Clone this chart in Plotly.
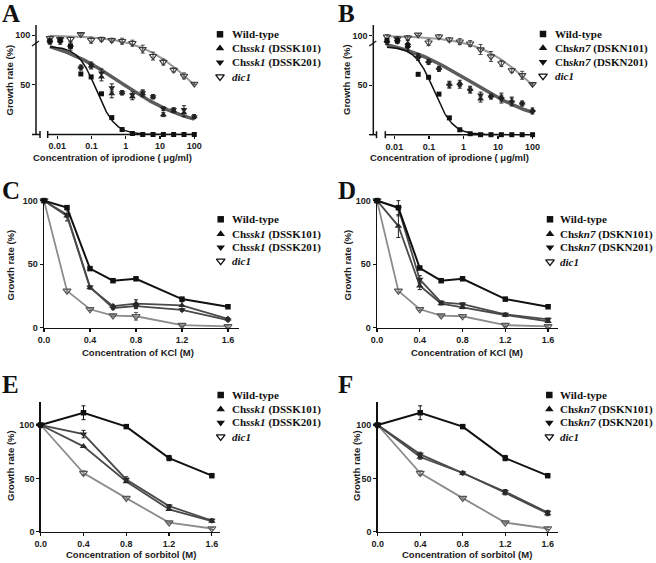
import numpy as np
import plotly.graph_objects as go

W, H = 656, 563

# ---------------- data ----------------
ipro_conc = [0.0061, 0.0122, 0.0244, 0.0488, 0.0977, 0.1953, 0.3906, 0.7813,
             1.5625, 3.125, 6.25, 12.5, 25, 50, 100]
A_wt = [94, 95, 89, 61, 58, 41, 17, 5, 1, 0, 0, 0, 0, 0, 0]
A_mut1 = [95, 95, 90, 68, 69, 58, 41, 42, 38, 41, 38, 20, 24, 22, 18]
A_mut2 = [93, 93, 88, 67, 70, 62, 47, 42, 40, 42, 38, 26, 25, 25, 18]
A_dic1 = [97, 96, 96, 101, 95, 96, 95, 94, 92, 86, 79, 73, 65, 59, 51]
A_mut_err = [2, 2, 3, 2, 3, 4, 4, 2, 3, 3, 2, 2, 2, 4, 2]
A_dic1_err = [2, 2, 2, 1, 3, 2, 2, 3, 3, 4, 4, 3, 2, 3, 1]

B_wt = [95, 95, 90, 61, 58, 41, 17, 5, 1, 0, 0, 0, 0, 0, 0]
B_mut1 = [95, 96, 92, 80, 74, 67, 51, 52, 46, 36, 39, 38, 34, 32, 25]
B_mut2 = [93, 94, 88, 77, 73, 66, 50, 50, 45, 40, 38, 36, 33, 31, 23]
B_dic1 = [99, 97, 98, 101, 93, 99, 96, 94, 92, 86, 79, 72, 65, 60, 51]
B_mut_err = [2, 2, 3, 2, 2, 2, 3, 3, 3, 3, 2, 4, 4, 2, 2]
B_dic1_err = [2, 2, 2, 1, 3, 2, 2, 3, 3, 5, 5, 3, 2, 4, 1]

# four-parameter logistic fits: top, bottom, EC50, hill
A_fit_wt = [89, 0, 0.14, 1.6]
A_fit_mut = [100, 5, 0.7, 0.42]
A_fit_dic1 = [100, 0, 100, 0.55]
B_fit_wt = [89, 0, 0.14, 1.6]
B_fit_mut = [100, 8, 1.5, 0.4]
B_fit_dic1 = [100, 0, 100, 0.55]

kcl_conc = [0, 0.2, 0.4, 0.6, 0.8, 1.2, 1.6]
C_wt = [100, 94.5, 46.5, 37, 38.5, 22.5, 16.5]
C_mut1 = [100, 88, 31.5, 17, 19, 17.5, 7]
C_mut2 = [100, 89, 32, 15.5, 17, 14, 6]
C_dic1 = [100, 29, 14.5, 9.5, 9, 2, 1]
C_mut1_err = [0, 1, 1, 1, 3, 3, 1]
C_mut2_err = [0, 5, 1, 1, 2, 1, 1]
C_dic1_err = [0, 1, 1, 1, 3, 1, 1]

D_wt = [100, 94.5, 47, 37, 38.5, 22.5, 16.5]
D_mut1 = [100, 80, 33, 19, 16, 10, 5]
D_mut2 = [100, 94, 38, 20, 18.5, 10.5, 6.5]
D_dic1 = [100, 29, 14.5, 9.5, 9, 2, 1]
D_mut1_err = [0, 9, 3, 1, 1, 1, 1]
D_mut2_err = [0, 6, 3, 1, 1, 1, 1]
D_dic1_err = [0, 1, 1, 1, 1, 1, 1]

sorb_conc = [0, 0.4, 0.8, 1.2, 1.6]
E_wt = [100, 111.5, 98.5, 69, 52.5]
E_mut1 = [100, 80, 47, 21, 10]
E_mut2 = [100, 91.5, 49, 24, 10.5]
E_dic1 = [100, 55, 31.5, 8.5, 3]
E_wt_err = [0, 6.5, 1, 2.5, 1]
E_mut2_err = [0, 3.5, 2.5, 1.5, 1.5]
E_dic1_err = [0, 2, 1, 1, 1]

F_wt = [100, 111.5, 98.5, 69, 52.5]
F_mut1 = [100, 70, 55, 36.5, 17]
F_mut2 = [100, 72.5, 55, 37.5, 18]
F_dic1 = [100, 55, 31.5, 8.5, 3]
F_wt_err = [0, 6.5, 1, 2.5, 1]
F_mut_err = [0, 2, 1.5, 2, 2]
F_dic1_err = [0, 2, 1, 1, 1]

legend_ssk = ["Wild-type", "Ch<i>ssk1</i> (DSSK101)", "Ch<i>ssk1</i> (DSSK201)", "<i>dic1</i>"]
legend_skn = ["Wild-type", "Ch<i>skn7</i> (DSKN101)", "Ch<i>skn7</i> (DSKN201)", "<i>dic1</i>"]
y_ticks = [0, 50, 100]
ipro_ticks = [0.01, 0.1, 1, 10, 100]
salt_ticks = [0, 0.4, 0.8, 1.2, 1.6]

# ---------------- style ----------------
C_WT = "#111111"
C_MUT = "#4a4a4a"
C_DIC = "#8c8c8c"
SANS = "Liberation Sans"
SERIF = "Liberation Serif"

fig = go.Figure()


def xd(a, b):
    return [a / W, b / W]


def yd(top, bottom):
    return [1 - bottom / H, 1 - top / H]


# panel geometry (pixels)
panels = {
    1: dict(x=(36, 196), y=(25, 134.5), xr=[-2.62, 2.05], yr=[0, 110.3], log=True),
    2: dict(x=(373.3, 534.3), y=(25, 134.7), xr=[-2.61, 2.05], yr=[0, 110.8], log=True),
    3: dict(x=(44, 239), y=(199, 327.7), xr=[0, 1.696], yr=[0, 101.3], log=False),
    4: dict(x=(377, 557.7), y=(199, 327.7), xr=[0, 1.69], yr=[0, 101.3], log=False),
    5: dict(x=(40.7, 220), y=(402.3, 531.7), xr=[0, 1.676], yr=[0, 121.3], log=False),
    6: dict(x=(377.7, 557.7), y=(402.3, 531.7), xr=[0, 1.694], yr=[0, 121.3], log=False),
}

tickfont = dict(family=SANS, size=9, color="#1a1a1a", weight="bold")
layout_axes = {}
for i, p in panels.items():
    xn = "xaxis" if i == 1 else f"xaxis{i}"
    yn = "yaxis" if i == 1 else f"yaxis{i}"
    ax = dict(domain=xd(*p["x"]), range=p["xr"], showgrid=False, zeroline=False,
              ticks="outside", ticklen=3, tickwidth=1.2, tickcolor="#111", automargin=False,
              tickfont=tickfont, anchor=f"y{'' if i == 1 else i}")
    ay = dict(domain=yd(*p["y"]), range=p["yr"], showgrid=False, zeroline=False,
              ticks="outside", ticklen=3, tickwidth=1.2, tickcolor="#111", automargin=False,
              tickfont=tickfont, tickvals=y_ticks, anchor=f"x{'' if i == 1 else i}")
    if p["log"]:
        ax.update(type="log", tickvals=ipro_ticks, ticktext=["0.01", "0.1", "1", "10", "100"],
                  showline=False)
        ay.update(ticktext=["", "50", "100"], showline=False)
    else:
        ax.update(tickvals=salt_ticks, ticktext=["0.0", "0.4", "0.8", "1.2", "1.6"],
                  showline=True, linecolor="#111", linewidth=1.5)
        ay.update(ticktext=["0", "50", "100"], showline=True, linecolor="#111", linewidth=1.5)
    layout_axes[xn] = ax
    layout_axes[yn] = ay

# overlay pixel axis
layout_axes["xaxis7"] = dict(domain=[0, 1], range=[0, W], visible=False, anchor="y7",
                             automargin=False, fixedrange=True)
layout_axes["yaxis7"] = dict(domain=[0, 1], range=[H, 0], visible=False, anchor="x7",
                             automargin=False, fixedrange=True)


def axref(i):
    return ("x" if i == 1 else f"x{i}"), ("y" if i == 1 else f"y{i}")


def logistic(params, x):
    top, bottom, ec50, hill = params
    return bottom + (top - bottom) / (1 + (x / ec50) ** hill)


def err(arr, color):
    return dict(type="data", array=arr, thickness=1, width=2, color=color, visible=True)


# ---- dose-response panels A, B ----
xgrid = np.logspace(np.log10(ipro_conc[0]), np.log10(ipro_conc[-1]), 300)
for i, (wt, m1, m2, dic, merr, derr, fwt, fmut, fdic) in {
    1: (A_wt, A_mut1, A_mut2, A_dic1, A_mut_err, A_dic1_err, A_fit_wt, A_fit_mut, A_fit_dic1),
    2: (B_wt, B_mut1, B_mut2, B_dic1, B_mut_err, B_dic1_err, B_fit_wt, B_fit_mut, B_fit_dic1),
}.items():
    xr_, yr_ = axref(i)
    fig.add_trace(go.Scatter(x=xgrid, y=logistic(fdic, xgrid), mode="lines",
                             line=dict(color="#9a9a9a", width=2), xaxis=xr_, yaxis=yr_))
    fig.add_trace(go.Scatter(x=xgrid, y=logistic(fmut, xgrid), mode="lines",
                             line=dict(color="#5c5c5c", width=3.5), xaxis=xr_, yaxis=yr_))
    fig.add_trace(go.Scatter(x=xgrid, y=logistic(fwt, xgrid), mode="lines",
                             line=dict(color=C_WT, width=1.5), xaxis=xr_, yaxis=yr_))
    fig.add_trace(go.Scatter(x=ipro_conc, y=dic, mode="markers", error_y=err(derr, "#444"),
                             marker=dict(symbol="triangle-down-open", size=6.5, color="#3a3a3a",
                                         line=dict(width=1.1)), xaxis=xr_, yaxis=yr_, cliponaxis=False))
    fig.add_trace(go.Scatter(x=ipro_conc, y=m1, mode="markers", error_y=err(merr, "#222"),
                             marker=dict(symbol="triangle-up", size=6, color="#222"),
                             xaxis=xr_, yaxis=yr_, cliponaxis=False))
    fig.add_trace(go.Scatter(x=ipro_conc, y=m2, mode="markers", error_y=err(merr, "#222"),
                             marker=dict(symbol="triangle-down", size=6, color="#222"),
                             xaxis=xr_, yaxis=yr_, cliponaxis=False))
    fig.add_trace(go.Scatter(x=ipro_conc, y=wt, mode="markers",
                             marker=dict(symbol="square", size=5, color=C_WT),
                             xaxis=xr_, yaxis=yr_, cliponaxis=False))

# ---- line panels C-F ----
line_panels = {
    3: (kcl_conc, C_wt, C_mut1, C_mut2, C_dic1, None, C_mut1_err, C_mut2_err, C_dic1_err),
    4: (kcl_conc, D_wt, D_mut1, D_mut2, D_dic1, None, D_mut1_err, D_mut2_err, D_dic1_err),
    5: (sorb_conc, E_wt, E_mut1, E_mut2, E_dic1, E_wt_err, None, E_mut2_err, E_dic1_err),
    6: (sorb_conc, F_wt, F_mut1, F_mut2, F_dic1, F_wt_err, F_mut_err, F_mut_err, F_dic1_err),
}
for i, (xc, wt, m1, m2, dic, wte, m1e, m2e, de) in line_panels.items():
    xr_, yr_ = axref(i)
    fig.add_trace(go.Scatter(x=xc, y=dic, mode="lines+markers",
                             error_y=err(de, "#555") if de else None,
                             line=dict(color=C_DIC, width=1.8),
                             marker=dict(symbol="triangle-down-open", size=7, color="#555",
                                         line=dict(width=1.2)),
                             xaxis=xr_, yaxis=yr_, cliponaxis=False))
    fig.add_trace(go.Scatter(x=xc, y=m1, mode="lines+markers",
                             error_y=err(m1e, "#222") if m1e else None,
                             line=dict(color=C_MUT, width=1.8),
                             marker=dict(symbol="triangle-up", size=6.5, color="#2a2a2a"),
                             xaxis=xr_, yaxis=yr_, cliponaxis=False))
    fig.add_trace(go.Scatter(x=xc, y=m2, mode="lines+markers",
                             error_y=err(m2e, "#222") if m2e else None,
                             line=dict(color=C_MUT, width=1.8),
                             marker=dict(symbol="triangle-down", size=6.5, color="#2a2a2a"),
                             xaxis=xr_, yaxis=yr_, cliponaxis=False))
    fig.add_trace(go.Scatter(x=xc, y=wt, mode="lines+markers",
                             error_y=err(wte, "#111") if wte else None,
                             line=dict(color=C_WT, width=2),
                             marker=dict(symbol="square", size=5.5, color=C_WT),
                             xaxis=xr_, yaxis=yr_, cliponaxis=False))

# ---- broken axes for A and B (pixel coordinates) ----
shapes = []


def seg(x0, y0, x1, y1, w=1.5):
    shapes.append(dict(type="line", xref="x7", yref="y7", x0=x0, y0=y0, x1=x1, y1=y1,
                       line=dict(color="#111", width=w)))


for (yx, top, base, m1, m2, right) in [(36, 25, 134.5, 40, 47.7, 196),
                                       (373.3, 25, 134.7, 376.5, 385.3, 534.3)]:
    seg(yx, top, yx, base)
    seg(yx - 4, base, m1, base)
    seg(m1, base - 3.5, m1, base + 3.5)
    seg(m2, base - 3.5, m2, base + 3.5)
    seg(m2, base, right, base)
    seg(yx - 4, 46, yx + 3, 41, 1.2)

# ---- legends ----
legend_pos = [
    (legend_ssk, 220, 231, [34.3, 48.3, 62.3, 76.7]),
    (legend_skn, 543, 554, [34, 48, 62, 76]),
    (legend_ssk, 220.7, 231, [219.3, 234, 247.3, 261]),
    (legend_skn, 550, 559, [219.3, 234, 247.3, 261.7]),
    (legend_ssk, 220.7, 231.3, [395, 409.3, 422.7, 436.7]),
    (legend_skn, 549.3, 558.5, [395, 409.3, 422.7, 436.7]),
]
symbols = ["square", "triangle-up", "triangle-down", "triangle-down-open"]
sizes = [6.5, 7.5, 7.5, 7.5]
annotations = []
for labels, sx, tx, rows in legend_pos:
    for k in range(4):
        fig.add_trace(go.Scatter(x=[sx], y=[rows[k]], mode="markers", xaxis="x7", yaxis="y7",
                                 marker=dict(symbol=symbols[k], size=sizes[k], color="#111",
                                             line=dict(width=1.3 if k == 3 else 0, color="#111")),
                                 cliponaxis=False))
        annotations.append(dict(x=tx, y=rows[k], xref="x7", yref="y7", text=f"<b>{labels[k]}</b>",
                                showarrow=False, xanchor="left", yanchor="middle", borderpad=0,
                                font=dict(family=SERIF, size=11, color="#111")))

# panel letters
for letter, lx, ly in [("A", 1, 13), ("B", 337, 13), ("C", 1, 190), ("D", 337, 190),
                       ("E", 1, 384), ("F", 337, 384)]:
    annotations.append(dict(x=lx, y=ly, xref="x7", yref="y7", text=f"<b>{letter}</b>",
                            showarrow=False, xanchor="left", yanchor="middle", borderpad=0,
                            font=dict(family=SERIF, size=25, color="#111")))

# axis titles
ytitle = "Growth rate (%)"
for tx_, ty_ in [(8.5, 80), (346, 80), (9.5, 265), (346.5, 265), (10, 466), (356, 466)]:
    annotations.append(dict(x=tx_, y=ty_, xref="x7", yref="y7", text=ytitle, textangle=-90,
                            showarrow=False, xanchor="center", yanchor="middle",
                            font=dict(family=SANS, size=9.5, color="#1a1a1a", weight="bold")))
xtitles = [("Concentration of iprodione ( \u03bcg/ml)", 112, 157),
           ("Concentration of iprodione ( \u03bcg/ml)", 449, 157),
           ("Concentration of KCl (M)", 138, 352),
           ("Concentration of KCl (M)", 467, 352),
           ("Concentration of sorbitol (M)", 131, 554),
           ("Concentration of sorbitol (M)", 467, 554)]
for t, tx_, ty_ in xtitles:
    annotations.append(dict(x=tx_, y=ty_, xref="x7", yref="y7", text=t,
                            showarrow=False, xanchor="center", yanchor="middle",
                            font=dict(family=SANS, size=9.5, color="#1a1a1a", weight="bold")))

fig.update_layout(width=W, height=H,
                  margin=dict(l=0, r=0, t=0, b=0, pad=0, autoexpand=False),
                  paper_bgcolor="white", plot_bgcolor="rgba(0,0,0,0)",
                  showlegend=False, shapes=shapes, annotations=annotations, **layout_axes)

fig.write_html("out.html", config={"displayModeBar": False, "staticPlot": True},
               post_script="document.body.style.margin='0';document.body.style.padding='0';"
                           "document.body.style.overflow='hidden';")
